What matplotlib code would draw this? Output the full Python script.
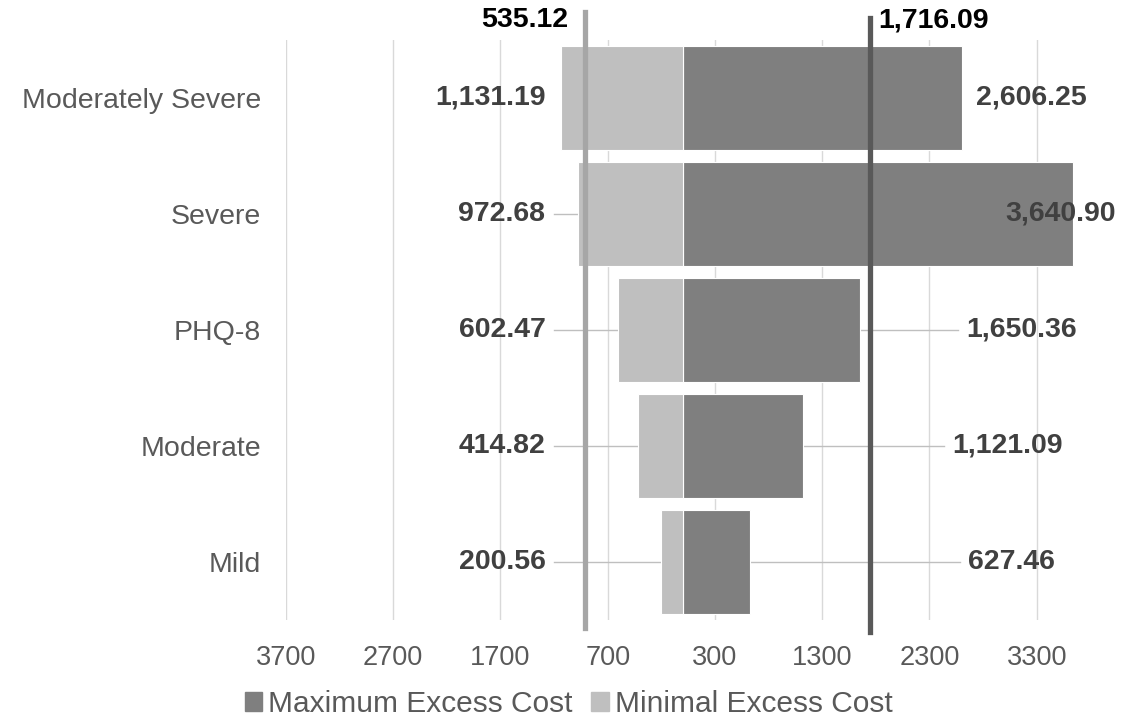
import numpy as np
import matplotlib.pyplot as plt
from matplotlib.patches import Patch

plt.rcParams['font.family'] = ['Liberation Sans', 'DejaVu Sans']

# dane
categories = ["Moderately Severe", "Severe", "PHQ-8", "Moderate", "Mild"]
max_cost = [2606.25, 3640.90, 1650.36, 1121.09, 627.46]
min_cost = [1131.19, 972.68, 602.47, 414.82, 200.56]
tick_vals = [-3700, -2700, -1700, -700, 300, 1300, 2300, 3300]
tick_labels = ["3700", "2700", "1700", "700", "300", "1300", "2300", "3300"]
ref_labels = ["535.12", "1,716.09"]
ref_pos = [-910, 1745]      # gdzie linie stoja na rysunku
right_label_x = [2730, 3010, 2640, 2510, 2655]

dark = "#7f7f7f"
light = "#bfbfbf"
fs = 20.5

fig = plt.figure(figsize=(11.37, 7.18), dpi=100)
ax = fig.add_axes([0.2515, 0.1365, 0.698, 0.808])

y = np.arange(len(categories))
ax.barh(y, max_cost, height=0.9, color=dark, edgecolor="white", linewidth=0.8, zorder=2)
ax.barh(y, [-v for v in min_cost], height=0.9, color=light, edgecolor="white", linewidth=0.8, zorder=2)

ax.set_xlim(-3700, 3700)
ax.set_ylim(4.5, -0.5)
ax.set_xticks(tick_vals)
ax.set_xticklabels(tick_labels)
ax.set_yticks(y)
ax.set_yticklabels(categories)
ax.tick_params(axis="x", length=0, labelsize=19.5, labelcolor="#595959", pad=18)
ax.tick_params(axis="y", length=0, labelsize=20.5, labelcolor="#595959", pad=18)
ax.grid(axis="x", color="#d9d9d9", linewidth=1, zorder=0)
ax.set_axisbelow(True)
for s in ax.spines.values():
    s.set_visible(False)

# etykiety po lewej
for i in range(len(categories)):
    ax.text(-1280, y[i], f"{min_cost[i]:,.2f}", ha="right", va="center",
            fontsize=fs, fontweight="bold", color="#404040", zorder=4)
    if min_cost[i] < 1100:
        ax.plot([-1200, -min_cost[i]], [y[i], y[i]], color="#bfbfbf", lw=1, zorder=1)

# etykiety po prawej
for i in range(len(categories)):
    ax.text(right_label_x[i], y[i], f"{max_cost[i]:,.2f}", ha="left", va="center",
            fontsize=fs, fontweight="bold", color="#404040", zorder=4, clip_on=False)
    if right_label_x[i] - max_cost[i] > 400:
        ax.plot([max_cost[i], right_label_x[i] - 70], [y[i], y[i]], color="#bfbfbf", lw=1, zorder=1)

# linie pionowe
ax.plot([ref_pos[0], ref_pos[0]], [4.57, -0.74], color="#a6a6a6", lw=3.8, zorder=3, clip_on=False)
ax.plot([ref_pos[1], ref_pos[1]], [4.6, -0.69], color="#595959", lw=3.8, zorder=3, clip_on=False)
ax.text(ref_pos[0] - 160, -0.67, ref_labels[0], ha="right", va="center",
        fontsize=fs, fontweight="bold", color="black", clip_on=False)
ax.text(ref_pos[1] + 80, -0.67, ref_labels[1], ha="left", va="center",
        fontsize=fs, fontweight="bold", color="black", clip_on=False)

handles = [Patch(color=dark, label="Maximum Excess Cost"),
           Patch(color=light, label="Minimal Excess Cost")]
fig.legend(handles=handles, loc="center", bbox_to_anchor=(0.5, 0.019), ncol=2,
           frameon=False, fontsize=21.5, labelcolor="#595959",
           handlelength=0.6, handleheight=0.6, handletextpad=0.2, columnspacing=0.6)

plt.savefig("out.png", dpi=100)
